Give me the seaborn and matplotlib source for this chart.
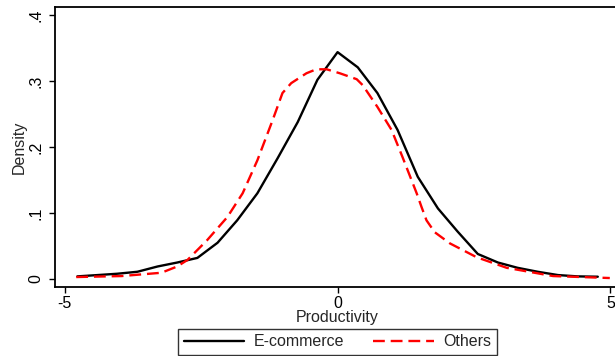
import matplotlib
matplotlib.use("Agg")
import matplotlib.pyplot as plt
import seaborn as sns
import pandas as pd

# --- data (kernel density estimates) ---
ecom_x = [-4.77, -4.40, -4.04, -3.67, -3.30, -2.94, -2.57, -2.20, -1.84, -1.47,
          -1.10, -0.73, -0.37, 0.0, 0.37, 0.73, 1.10, 1.47, 1.84, 2.20,
          2.57, 2.94, 3.30, 3.67, 4.04, 4.40, 4.77]
ecom_y = [0.004, 0.006, 0.008, 0.011, 0.019, 0.025, 0.032, 0.055, 0.089, 0.130,
          0.183, 0.238, 0.302, 0.344, 0.321, 0.282, 0.226, 0.155, 0.107, 0.072,
          0.038, 0.025, 0.017, 0.011, 0.006, 0.004, 0.0035]

others_x = [-4.79, -3.96, -3.23, -2.94, -2.75, -2.39, -2.02, -1.74, -1.47, -1.19,
            -1.01, -0.85, -0.57, -0.39, -0.20, 0.04, 0.35, 0.46, 0.73, 0.99,
            1.19, 1.45, 1.54, 1.63, 1.78, 2.06, 2.55, 3.10, 3.95, 4.99]
others_y = [0.003, 0.0045, 0.0095, 0.019, 0.029, 0.059, 0.094, 0.130, 0.180, 0.241,
            0.282, 0.297, 0.312, 0.318, 0.318, 0.312, 0.303, 0.294, 0.261, 0.226,
            0.185, 0.130, 0.109, 0.089, 0.071, 0.054, 0.033, 0.017, 0.0045, 0.0015]

x_ticks = [-5, 0, 5]
x_tick_labels = ["-5", "0", "5"]
y_ticks = [0, 0.1, 0.2, 0.3, 0.4]
y_tick_labels = ["0", ".1", ".2", ".3", ".4"]

df_e = pd.DataFrame({"Productivity": ecom_x, "Density": ecom_y})
df_o = pd.DataFrame({"Productivity": others_x, "Density": others_y})

# --- style ---
sns.set_style("ticks")
plt.rcParams["font.family"] = ["Liberation Sans", "DejaVu Sans"]
plt.rcParams["font.size"] = 11.5

fig = plt.figure(figsize=(6.15, 3.56), dpi=100)
ax = fig.add_axes([0.0894, 0.194, 0.919, 0.7855])

sns.lineplot(data=df_e, x="Productivity", y="Density", ax=ax, color="black",
             lw=1.7, estimator=None, sort=True, label="E-commerce")
sns.lineplot(data=df_o, x="Productivity", y="Density", ax=ax, color="red",
             lw=1.7, estimator=None, sort=True, label="Others")
ax.lines[1].set_dashes([5, 2.5])

ax.set_xlim(-5.18, 5.18)
ax.set_ylim(-0.012, 0.412)
ax.set_xticks(x_ticks)
ax.set_xticklabels(x_tick_labels)
ax.set_yticks(y_ticks)
ax.set_yticklabels(y_tick_labels, rotation=90, va="center")
ax.tick_params(axis="both", direction="out", length=4.5, width=1, colors="black",
               labelsize=11.5)
ax.tick_params(axis="x", pad=2)
ax.tick_params(axis="y", pad=4)

for side in ["left", "top", "bottom", "right"]:
    ax.spines[side].set_visible(True)
    ax.spines[side].set_color("black")
    ax.spines[side].set_linewidth(1.3)

ax.set_xlabel("Productivity", fontsize=11.5)
ax.set_ylabel("Density", fontsize=11.5)
ax.xaxis.set_label_coords(0.5, -0.082)
ax.yaxis.set_label_coords(-0.05, 0.5)

handles, labels = ax.get_legend_handles_labels()
ax.get_legend().remove()
leg = fig.legend(handles, labels, loc="lower center", bbox_to_anchor=(0.549, 0.003),
                 borderaxespad=0, ncol=2, frameon=True, fancybox=False,
                 edgecolor="black", handlelength=3.8, handletextpad=0.6,
                 columnspacing=1.8, borderpad=0.35, fontsize=11.5)
leg.get_frame().set_linewidth(1.0)

fig.savefig("out.png", dpi=100)
